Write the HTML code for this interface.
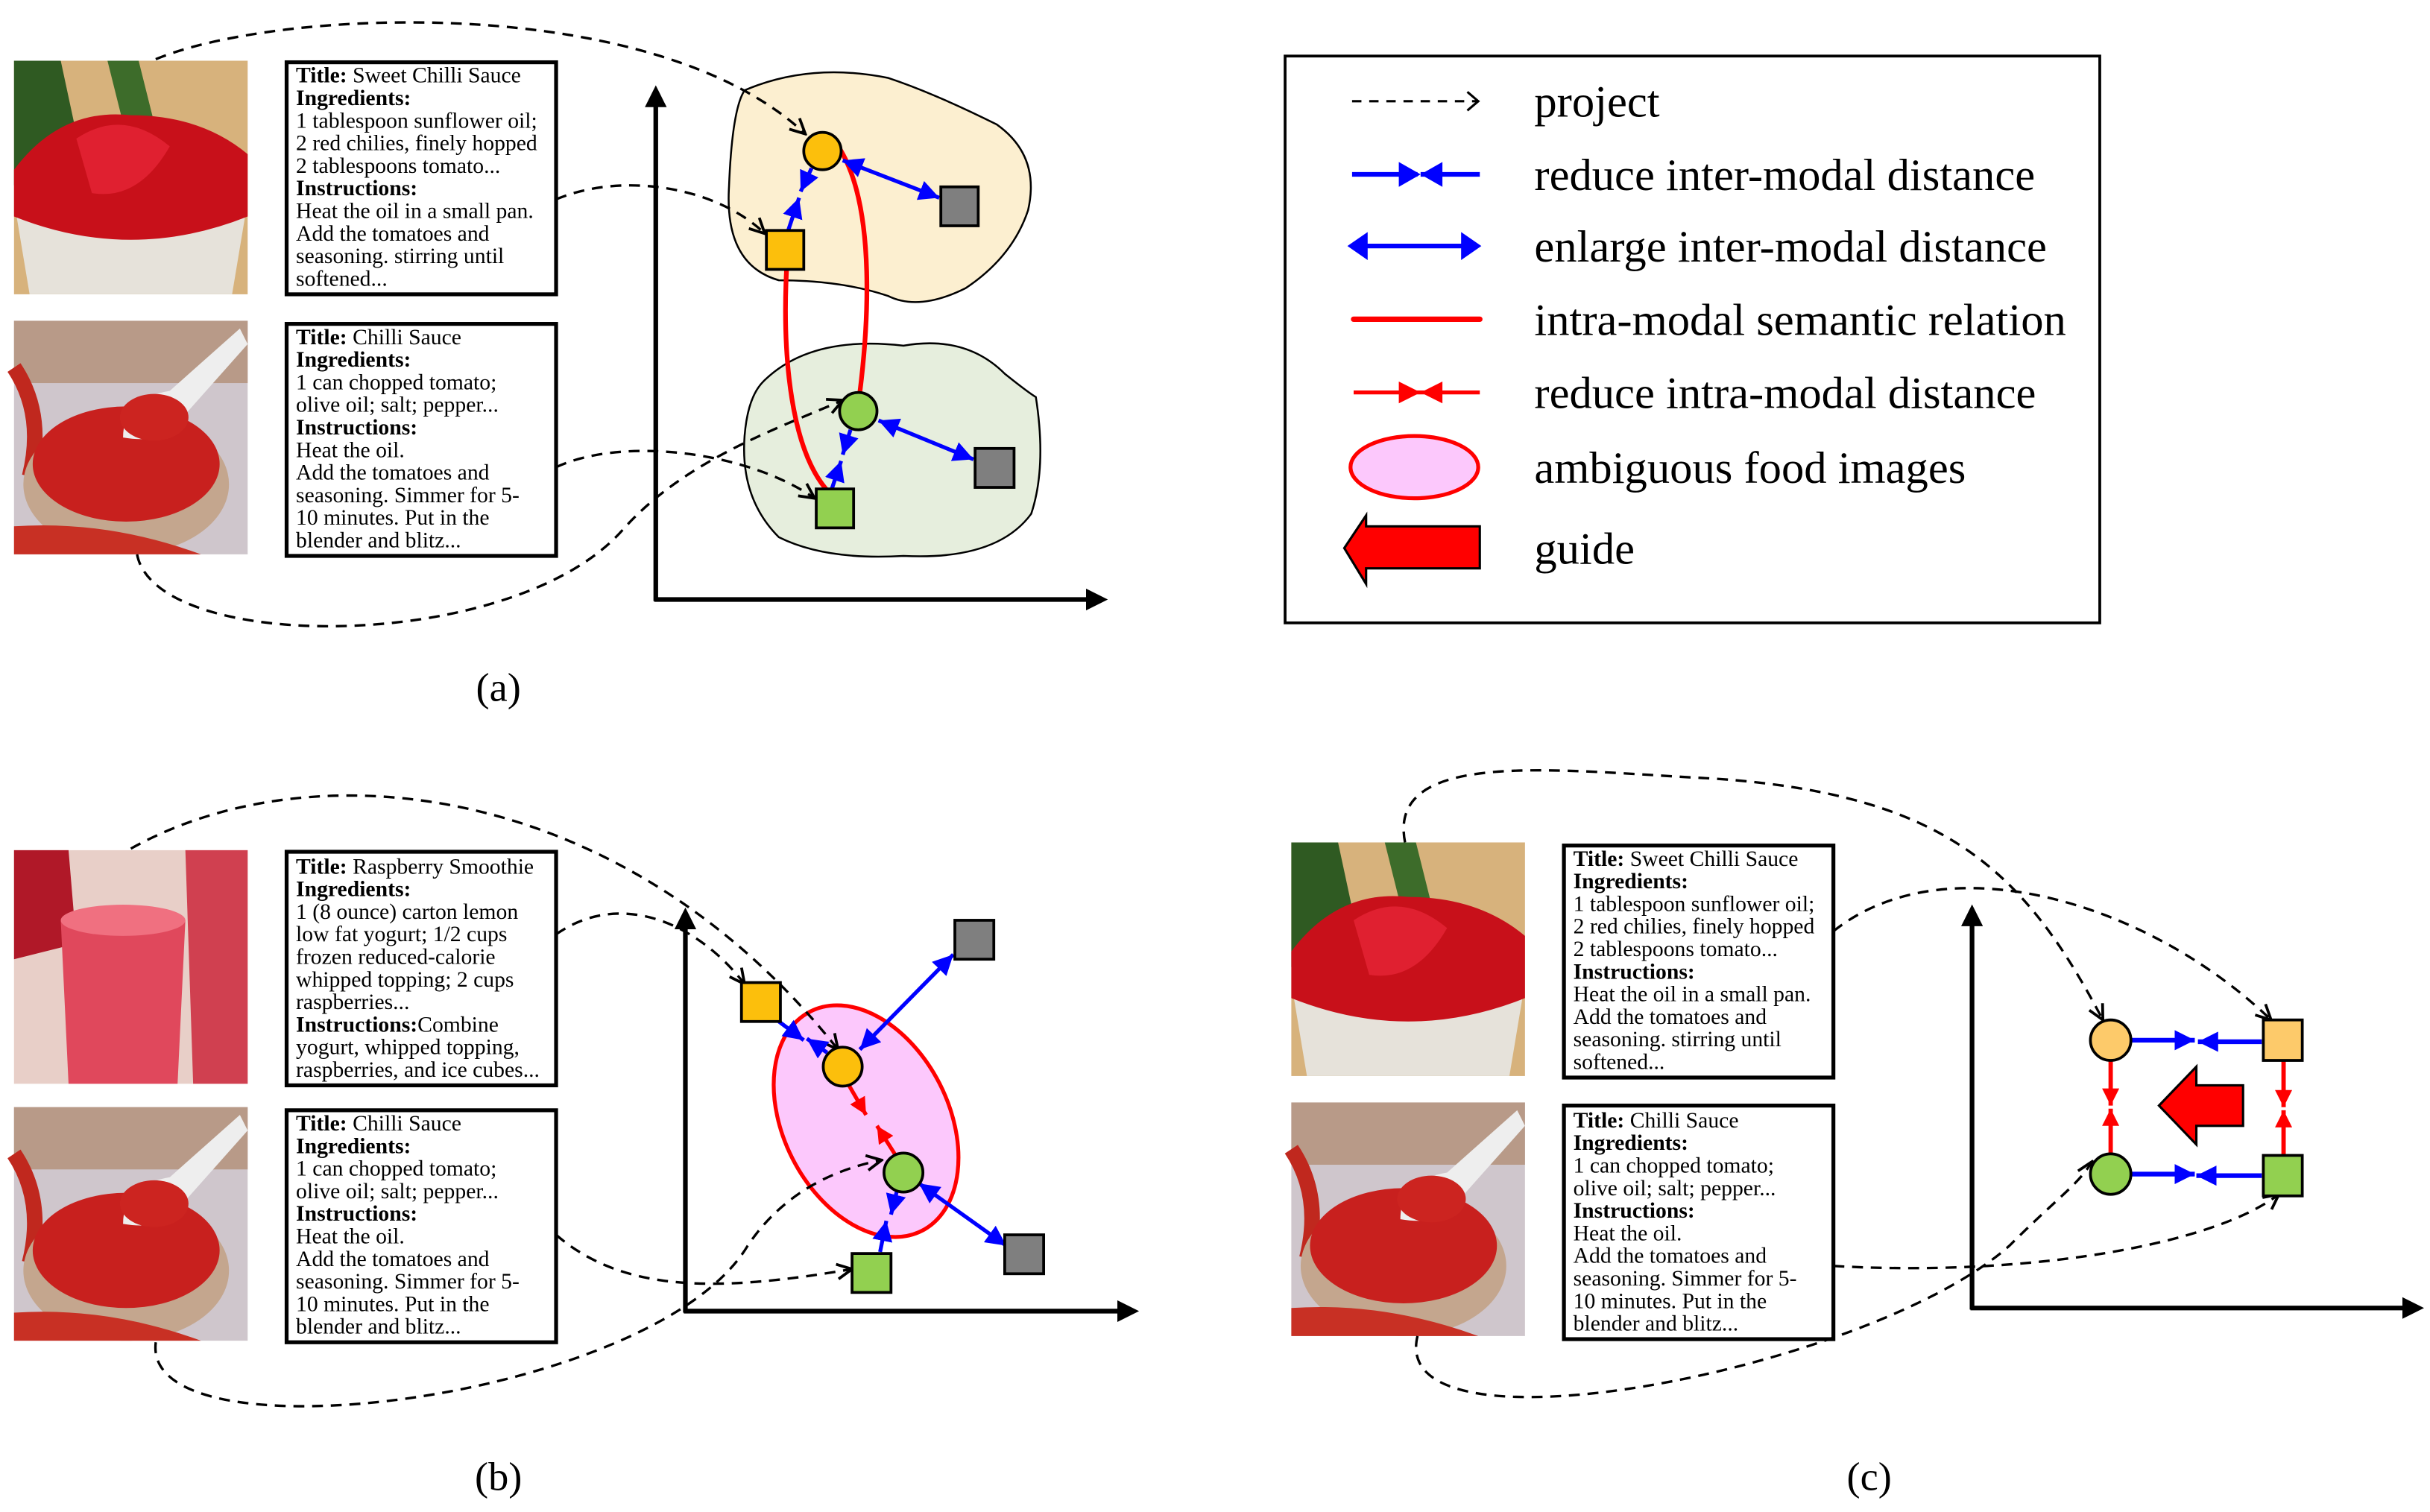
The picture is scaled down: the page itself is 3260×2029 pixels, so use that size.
<!DOCTYPE html>
<html><head><meta charset="utf-8"><style>
html,body{margin:0;padding:0;background:#fff}
svg{display:block}
text{font-family:"Liberation Serif",serif}
.t{font-size:14.2px}
.b{font-weight:bold}
.lg{font-size:29px}
.cap{font-size:26px}
.d{fill:none;stroke:#000;stroke-width:1.6;stroke-dasharray:7,5}
</style></head><body>
<svg width="3260" height="2029" viewBox="0 0 1560 971" preserveAspectRatio="none" xmlns="http://www.w3.org/2000/svg">
<defs>
<marker id="op" viewBox="0 0 10 10" refX="9" refY="5" markerWidth="12" markerHeight="12" markerUnits="userSpaceOnUse" orient="auto"><path d="M1,1 L9,5 L1,9" fill="none" stroke="#000" stroke-width="1.5"/></marker>
<marker id="bl" viewBox="0 0 10 10" refX="10" refY="5" markerWidth="13" markerHeight="13" markerUnits="userSpaceOnUse" orient="auto-start-reverse"><path d="M0,0 L10,5 L0,10 z" fill="#0000ff"/></marker>
<marker id="rd" viewBox="0 0 10 10" refX="10" refY="5" markerWidth="11" markerHeight="11" markerUnits="userSpaceOnUse" orient="auto-start-reverse"><path d="M0,0 L10,5 L0,10 z" fill="#ff0000"/></marker>
<marker id="ax" viewBox="0 0 10 10" refX="2" refY="5" markerWidth="14" markerHeight="14" markerUnits="userSpaceOnUse" orient="auto"><path d="M0,0 L10,5 L0,10 z" fill="#000"/></marker>
<g id="s1">
<rect width="150" height="150" fill="#d7b27c"/>
<path d="M0,0 L30,0 L45,70 L0,80z" fill="#2f5a22"/>
<path d="M60,0 L80,0 L95,60 L75,60z" fill="#3d6c2a"/>
<path d="M0,90 Q75,75 150,90 L140,150 L10,150z" fill="#e6e2da"/>
<path d="M0,70 Q30,30 75,35 Q120,35 150,60 L150,100 Q75,130 0,100z" fill="#c8101a"/>
<path d="M40,50 Q70,30 100,55 Q80,90 50,85z" fill="#e02030"/>
</g>
<g id="s2">
<rect width="150" height="150" fill="#cfc6cc"/>
<rect width="150" height="40" fill="#b89a88"/>
<path d="M0,30 Q20,60 10,100" stroke="#c0281e" stroke-width="10" fill="none"/>
<ellipse cx="72" cy="105" rx="66" ry="45" fill="#c4a68e"/>
<ellipse cx="72" cy="92" rx="60" ry="37" fill="#c8201e"/>
<path d="M70,75 Q70,50 100,45 L145,5 L150,15 L110,60 Q100,80 70,75z" fill="#eee"/>
<ellipse cx="90" cy="62" rx="22" ry="15" fill="#cc2420"/>
<path d="M0,132 Q60,128 120,150 L0,150z" fill="#c83024"/>
</g>
<g id="s3">
<rect width="150" height="150" fill="#e8cfc8"/>
<path d="M0,0 L35,0 L40,60 L0,70z" fill="#b01828"/>
<path d="M110,0 L150,0 L150,150 L115,150z" fill="#d04050"/>
<path d="M30,45 Q70,35 110,45 L105,150 L35,150z" fill="#e0485c"/>
<ellipse cx="70" cy="45" rx="40" ry="10" fill="#f07080"/>
</g>
</defs>

<!-- ===== Panel (a) ===== -->
<use href="#s1" x="9" y="39"/>
<use href="#s2" x="9" y="206"/>
<rect x="184" y="40" width="173" height="149" fill="#fff" stroke="#000" stroke-width="2.5"/>
<text class="t"><tspan x="190" y="53"><tspan class="b">Title:</tspan> Sweet Chilli Sauce</tspan><tspan x="190" y="67.5" class="b">Ingredients:</tspan><tspan x="190" y="82">1 tablespoon sunflower oil;</tspan><tspan x="190" y="96.5">2 red chilies, finely hopped</tspan><tspan x="190" y="111">2 tablespoons tomato...</tspan><tspan x="190" y="125.5" class="b">Instructions:</tspan><tspan x="190" y="140">Heat the oil in a small pan.</tspan><tspan x="190" y="154.5">Add the tomatoes and</tspan><tspan x="190" y="169">seasoning. stirring until</tspan><tspan x="190" y="183.5">softened...</tspan></text>
<rect x="184" y="208" width="173" height="149" fill="#fff" stroke="#000" stroke-width="2.5"/>
<text class="t"><tspan x="190" y="221"><tspan class="b">Title:</tspan> Chilli Sauce</tspan><tspan x="190" y="235.5" class="b">Ingredients:</tspan><tspan x="190" y="250">1 can chopped tomato;</tspan><tspan x="190" y="264.5">olive oil; salt; pepper...</tspan><tspan x="190" y="279" class="b">Instructions:</tspan><tspan x="190" y="293.5">Heat the oil.</tspan><tspan x="190" y="308">Add the tomatoes and</tspan><tspan x="190" y="322.5">seasoning. Simmer for 5-</tspan><tspan x="190" y="337">10 minutes. Put in the</tspan><tspan x="190" y="351.5">blender and blitz...</tspan></text>

<path d="M421,386 L421,66" stroke="#000" stroke-width="3" marker-end="url(#ax)"/>
<path d="M420,385 L700,385" stroke="#000" stroke-width="3" marker-end="url(#ax)"/>
<path d="M478,58 Q520,40 570,50 Q600,60 640,80 Q668,100 660,135 Q650,165 620,185 Q590,200 570,190 Q540,180 500,180 Q465,170 468,120 Q470,70 478,58z" fill="#fcefd0" stroke="#000" stroke-width="1.2"/>
<path d="M490,245 Q520,215 580,222 Q620,215 645,240 Q660,252 665,255 Q672,300 662,330 Q640,360 580,357 Q530,360 500,345 Q475,320 478,280 Q480,255 490,245z" fill="#e6eedd" stroke="#000" stroke-width="1.2"/>

<path class="d" d="M100,38 C180,5 420,-5 517,86" marker-end="url(#op)"/>
<path class="d" d="M357,128 C400,110 460,120 491,150" marker-end="url(#op)"/>
<path class="d" d="M357,300 C400,280 480,290 523,320" marker-end="url(#op)"/>
<path class="d" d="M88,356 C100,420 330,420 400,340 C440,295 500,275 541,257" marker-end="url(#op)"/>

<path d="M536,91 C565,130 556,220 552,252" stroke="#f00" stroke-width="3" fill="none"/>
<path d="M505,172 C502,230 508,290 532,316" stroke="#f00" stroke-width="3" fill="none"/>

<path d="M521,108 L514,123" stroke="#00f" stroke-width="2.5" marker-end="url(#bl)"/>
<path d="M506,148 L513,127" stroke="#00f" stroke-width="2.5" marker-end="url(#bl)"/>
<path d="M541,103 L603,127" stroke="#00f" stroke-width="2.5" marker-start="url(#bl)" marker-end="url(#bl)"/>
<path d="M546,276 L541,292" stroke="#00f" stroke-width="2.5" marker-end="url(#bl)"/>
<path d="M534,314 L540,296" stroke="#00f" stroke-width="2.5" marker-end="url(#bl)"/>
<path d="M564,270 L625,295" stroke="#00f" stroke-width="2.5" marker-start="url(#bl)" marker-end="url(#bl)"/>

<circle cx="528" cy="97" r="12" fill="#fcbf0c" stroke="#000" stroke-width="1.8"/>
<rect x="492" y="148" width="24" height="25" fill="#fcbf0c" stroke="#000" stroke-width="1.8"/>
<rect x="604" y="120" width="24" height="25" fill="#7f7f7f" stroke="#000" stroke-width="1.8"/>
<circle cx="551" cy="264" r="12" fill="#92d050" stroke="#000" stroke-width="1.8"/>
<rect x="626" y="288" width="25" height="25" fill="#7f7f7f" stroke="#000" stroke-width="1.8"/>
<rect x="524" y="314" width="24" height="25" fill="#92d050" stroke="#000" stroke-width="1.8"/>
<text class="cap" x="320" y="450" text-anchor="middle">(a)</text>

<!-- ===== Legend ===== -->
<rect x="825" y="36" width="523" height="364" fill="#fff" stroke="#000" stroke-width="1.8"/>
<path d="M868,65 L948,65" stroke="#000" stroke-width="1.5" stroke-dasharray="6,5"/>
<path d="M942,59 L949,65 L942,71" fill="none" stroke="#000" stroke-width="1.5"/>
<path d="M868,112 L910,112 M912,112 L950,112" stroke="#00f" stroke-width="3"/>
<path d="M898,104 L912,112 L898,120z M926,104 L912,112 L926,120z" fill="#00f"/>
<path d="M876,158 L940,158" stroke="#00f" stroke-width="3"/>
<path d="M865,158 L878,149 L878,167z M951,158 L938,149 L938,167z" fill="#00f"/>
<path d="M869,205 L950,205" stroke="#f00" stroke-width="3.5" stroke-linecap="round"/>
<path d="M869,252 L950,252" stroke="#f00" stroke-width="2.5"/>
<path d="M898,245 L912,252 L898,259z M926,245 L912,252 L926,259z" fill="#f00"/>
<ellipse cx="908" cy="300" rx="41" ry="20" fill="#fcc8fc" stroke="#f00" stroke-width="2.5"/>
<path d="M863,352 L877,331 L877,338 L950,338 L950,365 L877,365 L877,375z" fill="#f00" stroke="#000" stroke-width="1.5"/>
<text class="lg"><tspan x="985" y="75">project</tspan><tspan x="985" y="122">reduce inter-modal distance</tspan><tspan x="985" y="168">enlarge inter-modal distance</tspan><tspan x="985" y="215">intra-modal semantic relation</tspan><tspan x="985" y="262">reduce intra-modal distance</tspan><tspan x="985" y="310">ambiguous food images</tspan><tspan x="985" y="362">guide</tspan></text>

<!-- ===== Panel (b) ===== -->
<use href="#s3" x="9" y="546"/>
<use href="#s2" x="9" y="711"/>
<rect x="184" y="547" width="173" height="150" fill="#fff" stroke="#000" stroke-width="2.5"/>
<text class="t"><tspan x="190" y="561"><tspan class="b">Title:</tspan> Raspberry Smoothie</tspan><tspan x="190" y="575.5" class="b">Ingredients:</tspan><tspan x="190" y="590">1 (8 ounce) carton lemon</tspan><tspan x="190" y="604.5">low fat yogurt; 1/2 cups</tspan><tspan x="190" y="619">frozen reduced-calorie</tspan><tspan x="190" y="633.5">whipped topping; 2 cups</tspan><tspan x="190" y="648">raspberries...</tspan><tspan x="190" y="662.5"><tspan class="b">Instructions:</tspan>Combine</tspan><tspan x="190" y="677">yogurt, whipped topping,</tspan><tspan x="190" y="691.5">raspberries, and ice cubes...</tspan></text>
<rect x="184" y="713" width="173" height="149" fill="#fff" stroke="#000" stroke-width="2.5"/>
<text class="t"><tspan x="190" y="726"><tspan class="b">Title:</tspan> Chilli Sauce</tspan><tspan x="190" y="740.5" class="b">Ingredients:</tspan><tspan x="190" y="755">1 can chopped tomato;</tspan><tspan x="190" y="769.5">olive oil; salt; pepper...</tspan><tspan x="190" y="784" class="b">Instructions:</tspan><tspan x="190" y="798.5">Heat the oil.</tspan><tspan x="190" y="813">Add the tomatoes and</tspan><tspan x="190" y="827.5">seasoning. Simmer for 5-</tspan><tspan x="190" y="842">10 minutes. Put in the</tspan><tspan x="190" y="856.5">blender and blitz...</tspan></text>

<path d="M440,843 L440,594" stroke="#000" stroke-width="3" marker-end="url(#ax)"/>
<path d="M439,842 L720,842" stroke="#000" stroke-width="3" marker-end="url(#ax)"/>
<ellipse cx="556" cy="720" rx="53" ry="79" transform="rotate(-27 556 720)" fill="#fcc8fc" stroke="#f00" stroke-width="2.5"/>

<path class="d" d="M84,545 C200,480 400,500 538,674" marker-end="url(#op)"/>
<path class="d" d="M357,600 C400,570 450,595 478,632" marker-end="url(#op)"/>
<path class="d" d="M357,793 C400,830 460,830 547,815" marker-end="url(#op)"/>
<path class="d" d="M100,862 C90,940 420,900 480,800 C500,770 530,752 566,745" marker-end="url(#op)"/>

<path d="M500,656 L516,668" stroke="#00f" stroke-width="2.5" marker-end="url(#bl)"/>
<path d="M531,676 L518,667" stroke="#00f" stroke-width="2.5" marker-end="url(#bl)"/>
<path d="M552,674 L612,613" stroke="#00f" stroke-width="2.5" marker-start="url(#bl)" marker-end="url(#bl)"/>
<path d="M545,697 L556,716" stroke="#f00" stroke-width="2.5" marker-end="url(#rd)"/>
<path d="M575,742 L563,723" stroke="#f00" stroke-width="2.5" marker-end="url(#rd)"/>
<path d="M576,764 L572,780" stroke="#00f" stroke-width="2.5" marker-end="url(#bl)"/>
<path d="M565,804 L569,784" stroke="#00f" stroke-width="2.5" marker-end="url(#bl)"/>
<path d="M590,760 L646,800" stroke="#00f" stroke-width="2.5" marker-start="url(#bl)" marker-end="url(#bl)"/>

<rect x="476" y="631" width="25" height="25" fill="#fcbf0c" stroke="#000" stroke-width="1.8"/>
<circle cx="541" cy="685" r="12.5" fill="#fcbf0c" stroke="#000" stroke-width="1.8"/>
<rect x="613" y="591" width="25" height="25" fill="#7f7f7f" stroke="#000" stroke-width="1.8"/>
<circle cx="580" cy="753" r="12.5" fill="#92d050" stroke="#000" stroke-width="1.8"/>
<rect x="645" y="793" width="25" height="25" fill="#7f7f7f" stroke="#000" stroke-width="1.8"/>
<rect x="547" y="805" width="25" height="25" fill="#92d050" stroke="#000" stroke-width="1.8"/>
<text class="cap" x="320" y="957" text-anchor="middle">(b)</text>

<!-- ===== Panel (c) ===== -->
<use href="#s1" x="829" y="541"/>
<use href="#s2" x="829" y="708"/>
<rect x="1004" y="543" width="173" height="149" fill="#fff" stroke="#000" stroke-width="2.5"/>
<text class="t"><tspan x="1010" y="556"><tspan class="b">Title:</tspan> Sweet Chilli Sauce</tspan><tspan x="1010" y="570.5" class="b">Ingredients:</tspan><tspan x="1010" y="585">1 tablespoon sunflower oil;</tspan><tspan x="1010" y="599.5">2 red chilies, finely hopped</tspan><tspan x="1010" y="614">2 tablespoons tomato...</tspan><tspan x="1010" y="628.5" class="b">Instructions:</tspan><tspan x="1010" y="643">Heat the oil in a small pan.</tspan><tspan x="1010" y="657.5">Add the tomatoes and</tspan><tspan x="1010" y="672">seasoning. stirring until</tspan><tspan x="1010" y="686.5">softened...</tspan></text>
<rect x="1004" y="710" width="173" height="150" fill="#fff" stroke="#000" stroke-width="2.5"/>
<text class="t"><tspan x="1010" y="724"><tspan class="b">Title:</tspan> Chilli Sauce</tspan><tspan x="1010" y="738.5" class="b">Ingredients:</tspan><tspan x="1010" y="753">1 can chopped tomato;</tspan><tspan x="1010" y="767.5">olive oil; salt; pepper...</tspan><tspan x="1010" y="782" class="b">Instructions:</tspan><tspan x="1010" y="796.5">Heat the oil.</tspan><tspan x="1010" y="811">Add the tomatoes and</tspan><tspan x="1010" y="825.5">seasoning. Simmer for 5-</tspan><tspan x="1010" y="840">10 minutes. Put in the</tspan><tspan x="1010" y="854.5">blender and blitz...</tspan></text>

<path d="M1266,841 L1266,592" stroke="#000" stroke-width="3" marker-end="url(#ax)"/>
<path d="M1265,840 L1545,840" stroke="#000" stroke-width="3" marker-end="url(#ax)"/>

<path class="d" d="M902,541 C890,480 1000,495 1100,500 C1250,510 1300,560 1350,655" marker-end="url(#op)"/>
<path class="d" d="M1177,598 C1250,540 1380,580 1458,655" marker-end="url(#op)"/>
<path class="d" d="M1177,813 C1300,820 1420,800 1463,767" marker-end="url(#op)"/>
<path class="d" d="M910,858 C890,940 1200,880 1290,800 C1320,770 1335,760 1343,746" marker-end="url(#op)"/>

<path d="M1368,668 L1409,668" stroke="#00f" stroke-width="3" marker-end="url(#bl)"/>
<path d="M1452,669 L1411,669" stroke="#00f" stroke-width="3" marker-end="url(#bl)"/>
<path d="M1368,754 L1409,754" stroke="#00f" stroke-width="3" marker-end="url(#bl)"/>
<path d="M1452,755 L1410,755" stroke="#00f" stroke-width="3" marker-end="url(#bl)"/>
<path d="M1355,681 L1355,710" stroke="#f00" stroke-width="2.8" marker-end="url(#rd)"/>
<path d="M1355,741 L1355,712" stroke="#f00" stroke-width="2.8" marker-end="url(#rd)"/>
<path d="M1466,681 L1466,711" stroke="#f00" stroke-width="2.8" marker-end="url(#rd)"/>
<path d="M1466,743 L1466,713" stroke="#f00" stroke-width="2.8" marker-end="url(#rd)"/>
<path d="M1386,710 L1410,685 L1410,697 L1440,697 L1440,723 L1410,723 L1410,735z" fill="#f00" stroke="#000" stroke-width="1.5"/>

<circle cx="1355" cy="668" r="13" fill="#fdca6a" stroke="#000" stroke-width="1.8"/>
<rect x="1453" y="655" width="25" height="26" fill="#fdca6a" stroke="#000" stroke-width="1.8"/>
<circle cx="1355" cy="754" r="13" fill="#92d050" stroke="#000" stroke-width="1.8"/>
<rect x="1453" y="742" width="25" height="26" fill="#92d050" stroke="#000" stroke-width="1.8"/>
<text class="cap" x="1200" y="957" text-anchor="middle">(c)</text>
</svg>
</body></html>
